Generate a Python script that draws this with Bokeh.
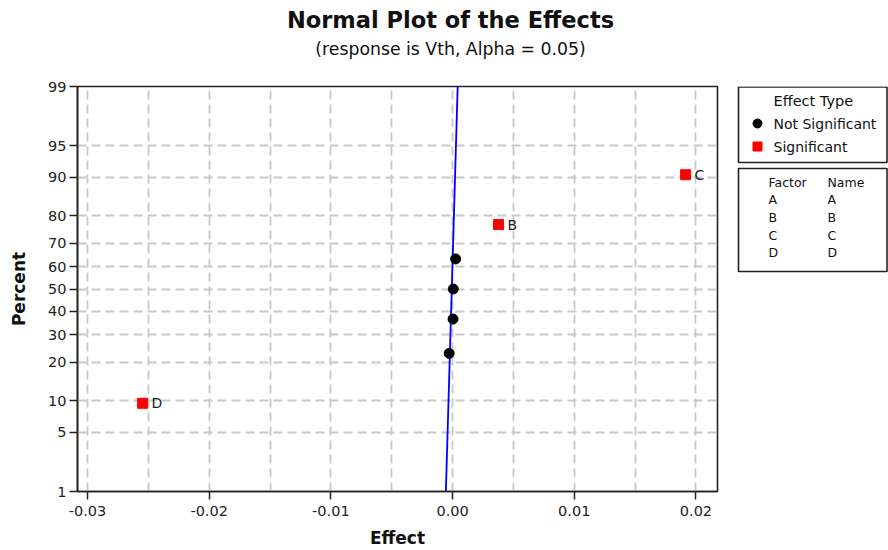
from statistics import NormalDist
from bokeh.plotting import figure
from bokeh.models import Range1d, FixedTicker, ColumnDataSource, NumeralTickFormatter
from bokeh.layouts import column, row
from bokeh.embed import file_html
from bokeh.resources import INLINE
from bokeh.core.properties import value

FONT = "DejaVu Sans"

# ---- data ----
effect = [-0.02547, -0.00028, 0.00004, 0.00006, 0.00025, 0.00378, 0.01915]
percent = [9.46, 22.97, 36.49, 50.0, 63.51, 77.03, 90.54]
effect_type = ["Significant", "Not Significant", "Not Significant", "Not Significant",
               "Not Significant", "Significant", "Significant"]
point_label = ["D", "", "", "", "", "B", "C"]

line_effect = [-0.00055, 0.00042]
line_percent = [1, 99]

y_tick_pct = [1, 5, 10, 20, 30, 40, 50, 60, 70, 80, 90, 95, 99]
y_grid_pct = [5, 10, 20, 30, 40, 50, 60, 70, 80, 90, 95]
x_ticks = [-0.03, -0.02, -0.01, 0.0, 0.01, 0.02]
x_grid = [-0.03, -0.025, -0.02, -0.015, -0.01, -0.005, 0.0, 0.005, 0.01, 0.015, 0.02]

legend_types = ["Not Significant", "Significant"]
legend_factor = ["A", "B", "C", "D"]
legend_name = ["A", "B", "C", "D"]

title_text = "Normal Plot of the Effects"
subtitle_text = "(response is Vth, Alpha = 0.05)"

nd = NormalDist()
def z(pct):
    return nd.inv_cdf(pct / 100.0)

W_TOTAL = 888
H_TOTAL = 550
HDR_H = 70
MAIN_W = 730
MAIN_H = H_TOTAL - HDR_H
LEG_W = W_TOTAL - MAIN_W
FRAME_TOP = HDR_H + 16          # page y of the plot frame top
FRAME_BOTTOM = FRAME_TOP + 405  # page y of the plot frame bottom

# ---- header (title) ----
hdr = figure(width=W_TOTAL, height=HDR_H, x_range=Range1d(0, W_TOTAL), y_range=Range1d(HDR_H, 0),
             toolbar_location=None, output_backend="svg", min_border=0,
             x_axis_location=None, y_axis_location=None)
hdr.grid.visible = False
hdr.outline_line_color = None
hdr.text(x=[450], y=[19], text=[title_text], text_font=value(FONT), text_font_style="bold",
         text_font_size="22.5px", text_align="center", text_baseline="middle", text_color="#111111")
hdr.text(x=[450], y=[48], text=[subtitle_text], text_font=value(FONT),
         text_font_size="17.3px", text_align="center", text_baseline="middle", text_color="#111111")

# ---- main plot ----
p = figure(width=MAIN_W, height=MAIN_H, x_range=Range1d(-0.03082, 0.02177),
           y_range=Range1d(z(1), z(99)), toolbar_location=None, output_backend="svg",
           min_border_left=77, min_border_right=13, min_border_top=16, min_border_bottom=59)
p.outline_line_color = "#222222"
p.outline_line_width = 1.6

p.xaxis.ticker = FixedTicker(ticks=x_ticks)
p.xaxis.formatter = NumeralTickFormatter(format="0.00")
p.yaxis.ticker = FixedTicker(ticks=[z(v) for v in y_tick_pct])
p.yaxis.major_label_overrides = {z(v): str(v) for v in y_tick_pct}
p.xgrid.ticker = FixedTicker(ticks=x_grid)
p.ygrid.ticker = FixedTicker(ticks=[z(v) for v in y_grid_pct])
for g in (p.xgrid, p.ygrid):
    g.grid_line_color = "#c8c8c8"
    g.grid_line_dash = "9 5"
    g.grid_line_width = 1.8

for ax in (p.xaxis, p.yaxis):
    ax.axis_line_color = "#222222"
    ax.axis_line_width = 1.6
    ax.major_tick_line_color = "#222222"
    ax.major_tick_line_width = 1.5
    ax.major_tick_out = 8
    ax.major_tick_in = 0
    ax.minor_tick_out = 0
    ax.minor_tick_in = 0
    ax.major_label_text_font = FONT
    ax.major_label_text_font_size = "14.5px"
    ax.major_label_text_color = "#222222"
    ax.axis_label_text_font = FONT
    ax.axis_label_text_font_style = "bold"
    ax.axis_label_text_font_size = "17px"
    ax.axis_label_text_color = "#111111"

p.xaxis.axis_label = "Effect"
p.yaxis.axis_label = "Percent"
p.xaxis.major_label_standoff = 6
p.xaxis.axis_label_standoff = 9
p.yaxis.major_label_standoff = 3
p.yaxis.axis_label_standoff = 16

# fitted line
p.line(x=line_effect, y=[z(v) for v in line_percent], line_color="#0000ff", line_width=1.8)

z_vals = [z(v) for v in percent]
ns = ColumnDataSource(dict(
    x=[e for e, t in zip(effect, effect_type) if t == "Not Significant"],
    y=[zz for zz, t in zip(z_vals, effect_type) if t == "Not Significant"]))
sg = ColumnDataSource(dict(
    x=[e for e, t in zip(effect, effect_type) if t == "Significant"],
    y=[zz for zz, t in zip(z_vals, effect_type) if t == "Significant"],
    lab=[l for l, t in zip(point_label, effect_type) if t == "Significant"]))

p.scatter("x", "y", source=ns, marker="circle", size=10, fill_color="black", line_color="black")
p.scatter("x", "y", source=sg, marker="square", size=10, fill_color="#ff0000", line_color="#ff0000")
p.text("x", "y", text="lab", source=sg, x_offset=9, text_align="left", text_baseline="middle",
       text_font=value(FONT), text_font_size="14px", text_color="#222222")

# ---- legend panel (its frame is aligned with the plot frame; ranges in page pixels) ----
leg = figure(width=LEG_W, height=MAIN_H, x_range=Range1d(MAIN_W, W_TOTAL),
             y_range=Range1d(FRAME_BOTTOM, FRAME_TOP),
             toolbar_location=None, output_backend="svg", min_border=0,
             x_axis_location=None, y_axis_location=None)
leg.grid.visible = False
leg.outline_line_color = None

leg.quad(left=[738, 738], right=[886.5, 886.5], top=[86.5, 168], bottom=[162, 271],
         fill_color="white", line_color="#222222", line_width=1.6)
leg.text(x=[773], y=[100], text=["Effect Type"], text_font=value(FONT), text_font_size="14.5px",
         text_baseline="middle", text_color="#111111")
leg.text(x=[773, 773], y=[123, 146], text=legend_types, text_font=value(FONT), text_font_size="14px",
         text_baseline="middle", text_color="#111111")
leg.scatter(x=[757], y=[123], marker="circle", size=9, fill_color="black", line_color="black")
leg.scatter(x=[757], y=[146], marker="square", size=9, fill_color="#ff0000", line_color="#ff0000")

leg.text(x=[768, 827], y=[182, 182], text=["Factor", "Name"], text_font=value(FONT),
         text_font_size="12.5px", text_baseline="middle", text_color="#111111")
rows_y = [199, 217, 235, 252]
leg.text(x=[768] * 4, y=rows_y, text=legend_factor, text_font=value(FONT),
         text_font_size="12.5px", text_baseline="middle", text_color="#111111")
leg.text(x=[827] * 4, y=rows_y, text=legend_name, text_font=value(FONT),
         text_font_size="12.5px", text_baseline="middle", text_color="#111111")

layout = column(hdr, row(p, leg))
open("out.html", "w").write(file_html(layout, INLINE))
